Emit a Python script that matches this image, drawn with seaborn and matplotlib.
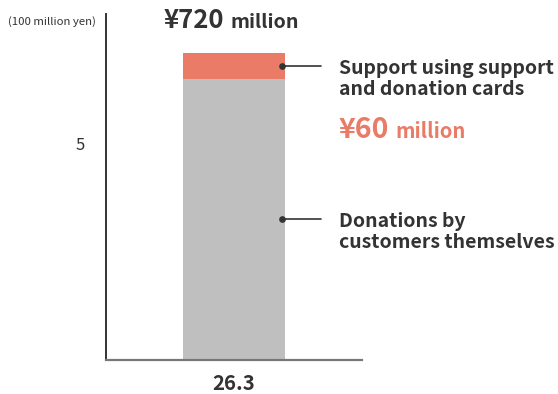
import matplotlib
matplotlib.use("Agg")
import matplotlib.pyplot as plt
from matplotlib.transforms import offset_copy, ScaledTranslation
import seaborn as sns
import pandas as pd

# Values in units of 100 million yen
categories = ["26.3"]
donations = [6.6]        # donations by customers themselves
card_support = [0.6]     # support using support and donation cards
y_ticks = [5]
unit_label = "(100 million yen)"
series_names = ["Support using support\nand donation cards",
                "Donations by\ncustomers themselves"]

totals = [d + c for d, c in zip(donations, card_support)]

sns.set_theme(style="white")
FONT = ["Noto Sans CJK JP", "DejaVu Sans"]
plt.rcParams["font.family"] = FONT

DARK = "#333333"
SALMON = "#E97B67"
GRAY = "#BFBFBF"

df = pd.DataFrame({"year": categories, "donations": donations,
                   "cards": card_support, "total": totals})

fig = plt.figure(figsize=(5.58, 3.94), dpi=100)
ax = fig.add_axes([106 / 558, 34 / 394, 256 / 558, 346 / 394])

BAR_W = 0.4
# stacked bar: full total in salmon, customer donations in gray on top of it
sns.barplot(data=df, x="year", y="total", color=SALMON, width=BAR_W,
            saturation=1, linewidth=0, ax=ax)
sns.barplot(data=df, x="year", y="donations", color=GRAY, width=BAR_W,
            saturation=1, linewidth=0, ax=ax)

ax.set_xlim(-0.5, 0.5)
ax.set_ylim(0, 8.12)
ax.set_yticks(y_ticks)
ax.set_xlabel("")
ax.set_ylabel("")
sns.despine(ax=ax)
ax.spines["left"].set_color(DARK)
ax.spines["left"].set_linewidth(1.4)
ax.spines["bottom"].set_color("#777777")
ax.spines["bottom"].set_linewidth(1.6)
ax.tick_params(axis="y", length=0, pad=15, labelsize=12, labelcolor=DARK)
ax.tick_params(axis="x", length=0, pad=9, labelsize=14.7, labelcolor=DARK)
for lab in ax.get_xticklabels():
    lab.set_fontweight("bold")
for lab in ax.get_yticklabels():
    lab.set_transform(lab.get_transform()
                      + ScaledTranslation(0, 3 / 100, fig.dpi_scale_trans))

fig.text(8 / 558, 1 - 22 / 394, unit_label, ha="left", va="center",
         fontsize=8.2, color=DARK)

# leader lines with dots and series names
dot_x = BAR_W / 2 - 0.012
line_end = 0.34
text_x = 0.41
anchors = [donations[0] + card_support[0] / 2, donations[0] / 2]
for y, name in zip(anchors, series_names):
    ax.plot([dot_x, line_end], [y, y], color=DARK, lw=1.2, clip_on=False)
    ax.plot(dot_x, y, "o", color=DARK, ms=3.8, clip_on=False)
    ax.annotate(name, xy=(text_x, y), xytext=(0, 5),
                textcoords="offset points", ha="left", va="top",
                fontsize=14, fontweight="bold", color=DARK, linespacing=1.12)


def money_parts(x, y, dy_pt, amount, color, big_size, small_size):
    big = ax.text(x, y, f"¥{round(amount * 100)}", ha="left", va="baseline",
                  fontsize=big_size, fontweight="bold", color=color)
    small = ax.text(x, y, "million", ha="left", va="baseline",
                    fontsize=small_size, fontweight="bold", color=color)
    return big, small, dy_pt


title = money_parts(0, totals[0], 18, totals[0], DARK, 18.5, 14.2)
cards = money_parts(text_x, anchors[0], -51.5, card_support[0], SALMON, 20.5, 14.5)

fig.canvas.draw()
renderer = fig.canvas.get_renderer()
dpi = fig.dpi
gap = 6


def place(parts, centred):
    big, small, dy_pt = parts
    w1 = big.get_window_extent(renderer).width
    w2 = small.get_window_extent(renderer).width
    start = -(w1 + gap + w2) / 2 - 3 if centred else 0
    dy = dy_pt * dpi / 72
    big.set_transform(offset_copy(ax.transData, fig=fig, x=start, y=dy, units="dots"))
    small.set_transform(offset_copy(ax.transData, fig=fig, x=start + w1 + gap,
                                    y=dy, units="dots"))


place(title, True)
place(cards, False)

fig.savefig("out.png", dpi=100)
